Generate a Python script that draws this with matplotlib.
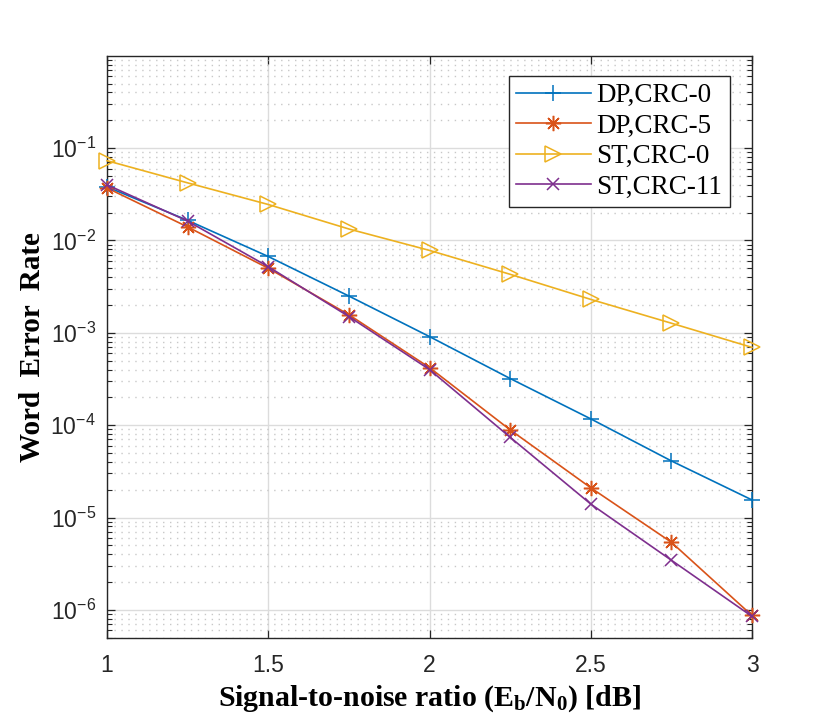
import matplotlib
matplotlib.use("Agg")
import matplotlib.pyplot as plt
import numpy as np
from matplotlib.ticker import LogLocator, FixedLocator, FuncFormatter, NullFormatter

plt.rcParams['mathtext.default'] = 'regular'
plt.rcParams['mathtext.fontset'] = 'custom'
plt.rcParams['mathtext.rm'] = 'Liberation Serif'
plt.rcParams['mathtext.bf'] = 'Liberation Serif:bold'

snr = [1.0, 1.25, 1.5, 1.75, 2.0, 2.25, 2.5, 2.75, 3.0]
dp_crc0 = [3.8e-2, 1.65e-2, 6.7e-3, 2.5e-3, 9.1e-4, 3.2e-4, 1.17e-4, 4.1e-5, 1.55e-5]
dp_crc5 = [3.7e-2, 1.4e-2, 5.0e-3, 1.57e-3, 4.2e-4, 8.9e-5, 2.1e-5, 5.4e-6, 8.7e-7]
st_crc0 = [7.3e-2, 4.2e-2, 2.45e-2, 1.33e-2, 7.8e-3, 4.3e-3, 2.3e-3, 1.27e-3, 6.95e-4]
st_crc11 = [4.0e-2, 1.62e-2, 5.2e-3, 1.5e-3, 4.0e-4, 7.4e-5, 1.4e-5, 3.45e-6, 8.5e-7]

labels = ['DP,CRC-0', 'DP,CRC-5', 'ST,CRC-0', 'ST,CRC-11']
series = [dp_crc0, dp_crc5, st_crc0, st_crc11]
colors = ['#0072BD', '#D95319', '#EDB120', '#7E2F8E']
markers = ['+', (8, 2, 0), '>', 'x']
msizes = [11, 11, 11, 9]

x_ticks = [1, 1.5, 2, 2.5, 3]
x_ticklabels = ['1', '1.5', '2', '2.5', '3']

fig = plt.figure(figsize=(8.3, 7.28), dpi=100)
ax = fig.add_axes([107/830, 1-637.7/728, 645/830, 582/728])

for y, lab, c, m, ms in zip(series, labels, colors, markers, msizes):
    ax.plot(snr, y, color=c, marker=m, markersize=ms, markerfacecolor='none',
            markeredgewidth=1.1, linewidth=1.2, label=lab, clip_on=False, zorder=3)

ax.set_yscale('log')
ax.set_xlim(1, 3)
ax.set_ylim(5e-7, 1)
ax.xaxis.set_major_locator(FixedLocator(x_ticks))
ax.set_xticklabels(x_ticklabels)
ax.yaxis.set_major_locator(FixedLocator([1e-6, 1e-5, 1e-4, 1e-3, 1e-2, 1e-1]))
ax.yaxis.set_major_formatter(FuncFormatter(lambda v, p: r'$10^{%d}$' % int(round(np.log10(v)))))
ax.yaxis.set_minor_locator(LogLocator(base=10, subs=np.arange(2, 10), numticks=20))
ax.yaxis.set_minor_formatter(NullFormatter())

ax.grid(True, which='major', color='#dcdcdc', linestyle='-', linewidth=1.0)
ax.grid(True, which='minor', axis='y', color='#c8c8c8', linestyle=(0, (1, 4)), linewidth=1.0)
ax.set_axisbelow(True)

for s in ax.spines.values():
    s.set_color('#262626')
    s.set_linewidth(1.0)
ax.tick_params(which='both', direction='in', top=True, right=True, colors='#262626')
ax.tick_params(which='major', length=6, width=0.9)
ax.tick_params(which='minor', length=3.5, width=0.8)
ax.tick_params(axis='x', which='major', pad=12)
ax.tick_params(axis='y', which='major', pad=8)
for t in ax.get_xticklabels() + ax.get_yticklabels():
    t.set_fontfamily('Liberation Sans')
    t.set_fontsize(16.5)
    t.set_color('#262626')

ax.set_xlabel(r'Signal-to-noise ratio (E$_{\mathbf{b}}$/N$_{\mathbf{0}}$) [dB]',
              fontfamily='Liberation Serif', fontweight='bold', fontsize=21.5, labelpad=4)
ax.set_ylabel('Word  Error  Rate', fontfamily='Liberation Serif', fontweight='bold',
              fontsize=21, labelpad=3)

leg = ax.legend(loc='upper right', bbox_to_anchor=((730-107)/645, (637.7-75.7)/582),
                borderaxespad=0, prop={'family': 'Liberation Serif', 'size': 19.5},
                handlelength=2.75, handletextpad=0.22, labelspacing=0.2,
                borderpad=0.28, fancybox=False, framealpha=1)
leg.get_frame().set_edgecolor('#262626')
leg.get_frame().set_linewidth(1.0)

fig.savefig('out.png', dpi=100)
